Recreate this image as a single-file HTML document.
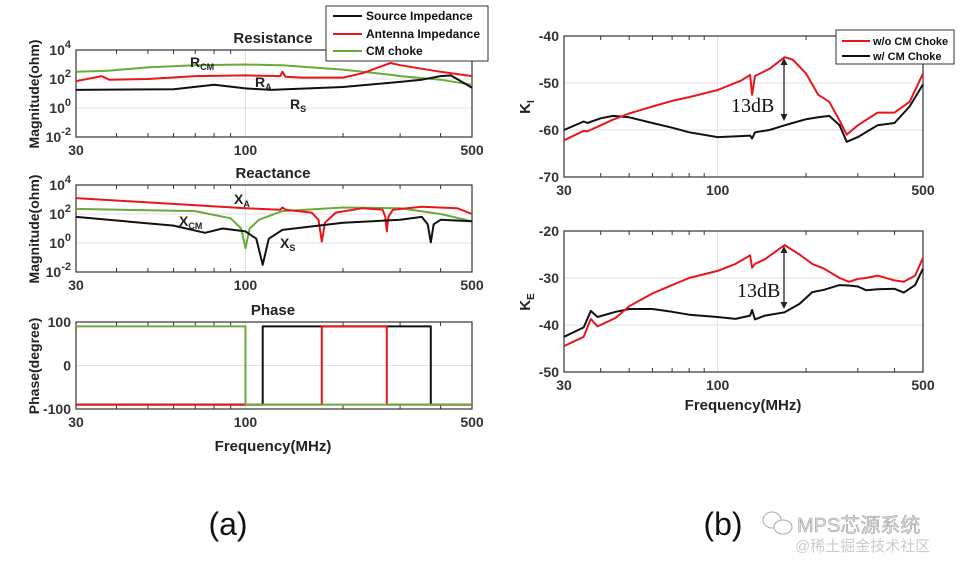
<!DOCTYPE html>
<html><head><meta charset="utf-8">
<style>
html,body{margin:0;padding:0;background:#fff;}
svg{display:block;}
</style></head>
<body>
<svg id="fig" width="975" height="569" viewBox="0 0 975 569" xmlns="http://www.w3.org/2000/svg" style="font-family:'Liberation Sans',Arial,sans-serif">
<g id="layer"></g>
</svg>
<script>
// ---- data (frequency MHz, values) ----
const resFreq = [30,36,38,50,70,100,128,130,133,150,200,230,280,300,400,500];
const rCM = [2.5,2.55,2.58,2.8,2.95,3.0,2.95,2.95,2.93,2.85,2.65,2.5,2.3,2.2,1.95,1.6];
const rA  = [1.85,2.2,1.95,2.0,2.2,2.25,2.2,2.5,2.15,2.1,2.1,2.4,3.1,2.95,2.5,2.2];
const rsFreq = [30,60,80,100,120,200,300,350,400,430,500];
const rS  = [1.25,1.3,1.6,1.35,1.25,1.45,1.8,1.95,2.2,2.25,1.4];

const xaFreq = [30,100,128,130,133,160,168,172,176,190,230,265,270,273,276,285,350,450,500];
const xA = [3.1,2.4,2.3,2.45,2.3,2.1,1.6,0.1,1.4,2.1,2.4,2.3,1.8,0.8,1.8,2.3,2.5,2.4,2.0];
const xcmFreq = [30,70,90,97,100,103,110,130,200,300,400,500];
const xCM = [2.35,2.2,1.7,1.0,-0.35,1.0,1.6,2.2,2.45,2.4,2.0,1.5];
const xsFreq = [30,60,75,85,100,108,113,118,130,200,300,350,365,373,381,400,500];
const xS = [1.8,1.2,0.7,1.0,0.8,0.3,-1.5,0.3,0.9,1.4,1.6,1.8,1.3,0.05,1.3,1.6,1.5];

const phFreqCM = [30,100,100,500];
const phCM = [90,90,-90,-90];
const phFreqS = [30,113,113,373,373,500];
const phS = [-90,-90,90,90,-90,-90];
const phFreqA = [30,172,172,273,273,500];
const phA = [-90,-90,90,90,-90,-90];

const kFreq = [30,35,36,40,44,50,60,70,80,100,120,129,131,134,150,169,180,200,220,240,260,275,300,350,400,450,500];
const kiRed = [-62.2,-60.2,-60.3,-59,-57.8,-56.5,-55,-53.8,-53,-51.5,-49.5,-48.3,-52.5,-48.5,-47,-44.5,-45,-48,-52.5,-54,-58,-61,-59,-56.3,-56.3,-54,-48];
const kiBlack = [-60,-58.2,-58.5,-57.5,-57,-57.3,-58.5,-59.5,-60.5,-61.5,-61.3,-61.2,-61.8,-60.5,-60,-59,-58.5,-57.7,-57.3,-57,-59,-62.5,-61.5,-59,-58.5,-55,-50.3];
const keFreq = [30,35,37,39,45,50,60,70,80,100,115,129,131,134,145,169,190,210,230,260,280,300,320,350,400,430,470,500];
const keRed = [-44.5,-42.5,-38.7,-40.3,-38.5,-36,-33.3,-31.5,-30,-28.5,-27,-25.2,-27.8,-27,-26,-23,-25,-27,-28,-30,-30.8,-30.2,-30,-29.5,-30.5,-30.8,-29.5,-25.7];
const keBlack = [-42.5,-40.5,-37,-38.3,-37.2,-36.6,-36.6,-37.2,-37.8,-38.3,-38.7,-38,-36.8,-38.8,-38,-37.3,-35.5,-33,-32.5,-31.5,-31.6,-31.8,-32.6,-32.4,-32.3,-33.1,-31.5,-28];

const NS='http://www.w3.org/2000/svg';
const L=document.getElementById('layer');
function mk(tag,attrs,parent){const e=document.createElementNS(NS,tag);for(const k in attrs)e.setAttribute(k,attrs[k]);(parent||L).appendChild(e);return e;}
function txt(s,x,y,size,anchor,parent){const t=mk('text',{x:x,y:y,'font-size':size,'text-anchor':anchor||'middle','font-weight':'bold',fill:'#333'},parent);t.textContent=s;return t;}

function axes(x0,x1,y0,y1,ymin,ymax,yticks,ylabels,name){
  const g=mk('g',{});
  
  
  const fx=f=>x0+(x1-x0)*Math.log(f/30)/Math.log(500/30);
  const fy=v=>y1-(y1-y0)*(v-ymin)/(ymax-ymin);
  yticks.forEach(v=>{if(v>ymin&&v<ymax)mk('line',{x1:x0,x2:x1,y1:fy(v),y2:fy(v),stroke:'#e0e0e0','stroke-width':1},g);});
  mk('line',{x1:fx(100),x2:fx(100),y1:y0,y2:y1,stroke:'#e0e0e0','stroke-width':1},g);
  [40,50,60,70,80,90,200,300,400].forEach(f=>{
    mk('line',{x1:fx(f),x2:fx(f),y1:y1,y2:y1-4,stroke:'#333','stroke-width':1},g);
    mk('line',{x1:fx(f),x2:fx(f),y1:y0,y2:y0+4,stroke:'#333','stroke-width':1},g);
  });
  mk('rect',{x:x0,y:y0,width:x1-x0,height:y1-y0,fill:'none',stroke:'#333','stroke-width':1.2},g);
  [30,100,500].forEach(f=>txt(String(f),fx(f),y1+18,14,'middle',g));
  yticks.forEach((v,i)=>{const lab=ylabels[i];
    const t=txt('',x0-5,fy(v)+5,14,'end',g);
    if(typeof lab==='string'){t.textContent=lab;}else{
      const a=mk('tspan',{},t);a.textContent='10';
      const b=mk('tspan',{dy:-7,'font-size':11},t);b.textContent=lab[1];
    }});
  return {fx,fy,g};
}
function line(ax,xs,ys,color,name){
  const d=xs.map((f,i)=>(i?'L':'M')+ax.fx(f).toFixed(1)+','+ax.fy(ys[i]).toFixed(1)).join(' ');
  const p=mk('path',{d:d,fill:'none',stroke:color,'stroke-width':2,'stroke-linejoin':'round'},ax.g);
  
  
}
const BLK='#111',RED='#e8161b',GRN='#6aaa3a';
const decT=[-2,0,2,4], decL=[['10','-2'],['10','0'],['10','2'],['10','4']];

const a1=axes(76,472,50,137,-2,4,decT,decL,'resistance-plot');
line(a1,resFreq,rCM,GRN,'r-cm-line');
line(a1,resFreq,rA,RED,'r-a-line');
line(a1,rsFreq,rS,BLK,'r-s-line');
const a2=axes(76,472,185,272,-2,4,decT,decL,'reactance-plot');
line(a2,xcmFreq,xCM,GRN,'x-cm-line');
line(a2,xaFreq,xA,RED,'x-a-line');
line(a2,xsFreq,xS,BLK,'x-s-line');
const a3=axes(76,472,322,409,-100,100,[-100,0,100],['-100','0','100'],'phase-plot');
line(a3,phFreqS,phS,BLK,'phase-s-line');
line(a3,phFreqA,phA,RED,'phase-a-line');
line(a3,phFreqCM,phCM,GRN,'phase-cm-line');
const a4=axes(564,923,36,177,-70,-40,[-70,-60,-50,-40],['-70','-60','-50','-40'],'ki-plot');
line(a4,kFreq,kiBlack,BLK,'ki-with-choke-line');
line(a4,kFreq,kiRed,RED,'ki-without-choke-line');
const a5=axes(564,923,231,372,-50,-20,[-50,-40,-30,-20],['-50','-40','-30','-20'],'ke-plot');
line(a5,keFreq,keBlack,BLK,'ke-with-choke-line');
line(a5,keFreq,keRed,RED,'ke-without-choke-line');

function arrow(x,ya,yb,name){
  const g=mk('g',{});
  mk('line',{x1:x,x2:x,y1:ya+5,y2:yb-5,stroke:'#222','stroke-width':1.3},g);
  mk('polygon',{points:`${x},${ya} ${x-3.5},${ya+7} ${x+3.5},${ya+7}`,fill:'#222'},g);
  mk('polygon',{points:`${x},${yb} ${x-3.5},${yb-7} ${x+3.5},${yb-7}`,fill:'#222'},g);
}
arrow(784,58,121,'ki-13db-arrow');
arrow(784,246,309,'ke-13db-arrow');
</script>
<svg width="975" height="569" style="position:absolute;left:0;top:0;font-family:'Liberation Sans',Arial,sans-serif" xmlns="http://www.w3.org/2000/svg">
<g font-weight="bold" fill="#222">
<text x="273" y="43" font-size="15" text-anchor="middle">Resistance</text>
<text x="273" y="178" font-size="15" text-anchor="middle">Reactance</text>
<text x="273" y="315" font-size="15" text-anchor="middle">Phase</text>
<text x="273" y="451" font-size="15" text-anchor="middle">Frequency(MHz)</text>
<text x="743" y="410" font-size="15" text-anchor="middle">Frequency(MHz)</text>
<text transform="translate(39,94) rotate(-90)" font-size="14" text-anchor="middle">Magnitude(ohm)</text>
<text transform="translate(39,229) rotate(-90)" font-size="14" text-anchor="middle">Magnitude(ohm)</text>
<text transform="translate(39,366) rotate(-90)" font-size="14" text-anchor="middle">Phase(degree)</text>
<text transform="translate(530,107) rotate(-90)" font-size="15" text-anchor="middle">K<tspan font-size="10" dy="4">I</tspan></text>
<text transform="translate(530,302) rotate(-90)" font-size="15" text-anchor="middle">K<tspan font-size="10" dy="4">E</tspan></text>
<text x="190" y="67" font-size="14">R<tspan font-size="9" dy="3">CM</tspan></text>
<text x="255" y="87" font-size="14">R<tspan font-size="9" dy="3">A</tspan></text>
<text x="290" y="109" font-size="14">R<tspan font-size="9" dy="3">S</tspan></text>
<text x="234" y="204" font-size="14">X<tspan font-size="9" dy="3">A</tspan></text>
<text x="179" y="226" font-size="14">X<tspan font-size="9" dy="3">CM</tspan></text>
<text x="280" y="248" font-size="14">X<tspan font-size="9" dy="3">S</tspan></text>
</g>
<text x="731" y="112" font-size="20" style="font-family:'Liberation Serif',serif" fill="#111">13dB</text>
<text x="737" y="297" font-size="20" style="font-family:'Liberation Serif',serif" fill="#111">13dB</text>
<g font-weight="bold" font-size="12" fill="#111">
<rect x="326" y="6" width="162" height="55" fill="#fff" stroke="#333" stroke-width="1"/>
<line x1="333" x2="362" y1="16" y2="16" stroke="#111" stroke-width="2"/><text x="366" y="20">Source Impedance</text>
<line x1="333" x2="362" y1="34" y2="34" stroke="#e8161b" stroke-width="2"/><text x="366" y="38">Antenna Impedance</text>
<line x1="333" x2="362" y1="51" y2="51" stroke="#6aaa3a" stroke-width="2"/><text x="366" y="55">CM choke</text>
</g>
<g font-weight="bold" font-size="11" fill="#111">
<rect x="836" y="30" width="118" height="34" fill="#fff" stroke="#333" stroke-width="1"/>
<line x1="842" x2="870" y1="41" y2="41" stroke="#e8161b" stroke-width="2"/><text x="873" y="45">w/o CM Choke</text>
<line x1="842" x2="870" y1="56" y2="56" stroke="#111" stroke-width="2"/><text x="873" y="60">w/ CM Choke</text>
</g>
<text x="228" y="535" font-size="32" text-anchor="middle" style="font-family:'Liberation Sans',sans-serif;font-weight:normal" fill="#111">(a)</text>
<text x="723" y="535" font-size="32" text-anchor="middle" style="font-family:'Liberation Sans',sans-serif;font-weight:normal" fill="#111">(b)</text>
<g>
<ellipse cx="772" cy="520" rx="9" ry="8" fill="#fff" stroke="#aaa"/>
<ellipse cx="783" cy="527" rx="9" ry="7" fill="#fff" stroke="#aaa"/>
<text x="797" y="532" font-size="20" style="font-family:'Liberation Sans','Noto Sans CJK SC',sans-serif" fill="#ddd" stroke="#999" stroke-width="0.5">MPS芯源系统</text>
<text x="795" y="551" font-size="15" style="font-family:'Liberation Sans','Noto Sans CJK SC',sans-serif" fill="#ccc">@稀土掘金技术社区</text>
</g>
</svg>
</body></html>
